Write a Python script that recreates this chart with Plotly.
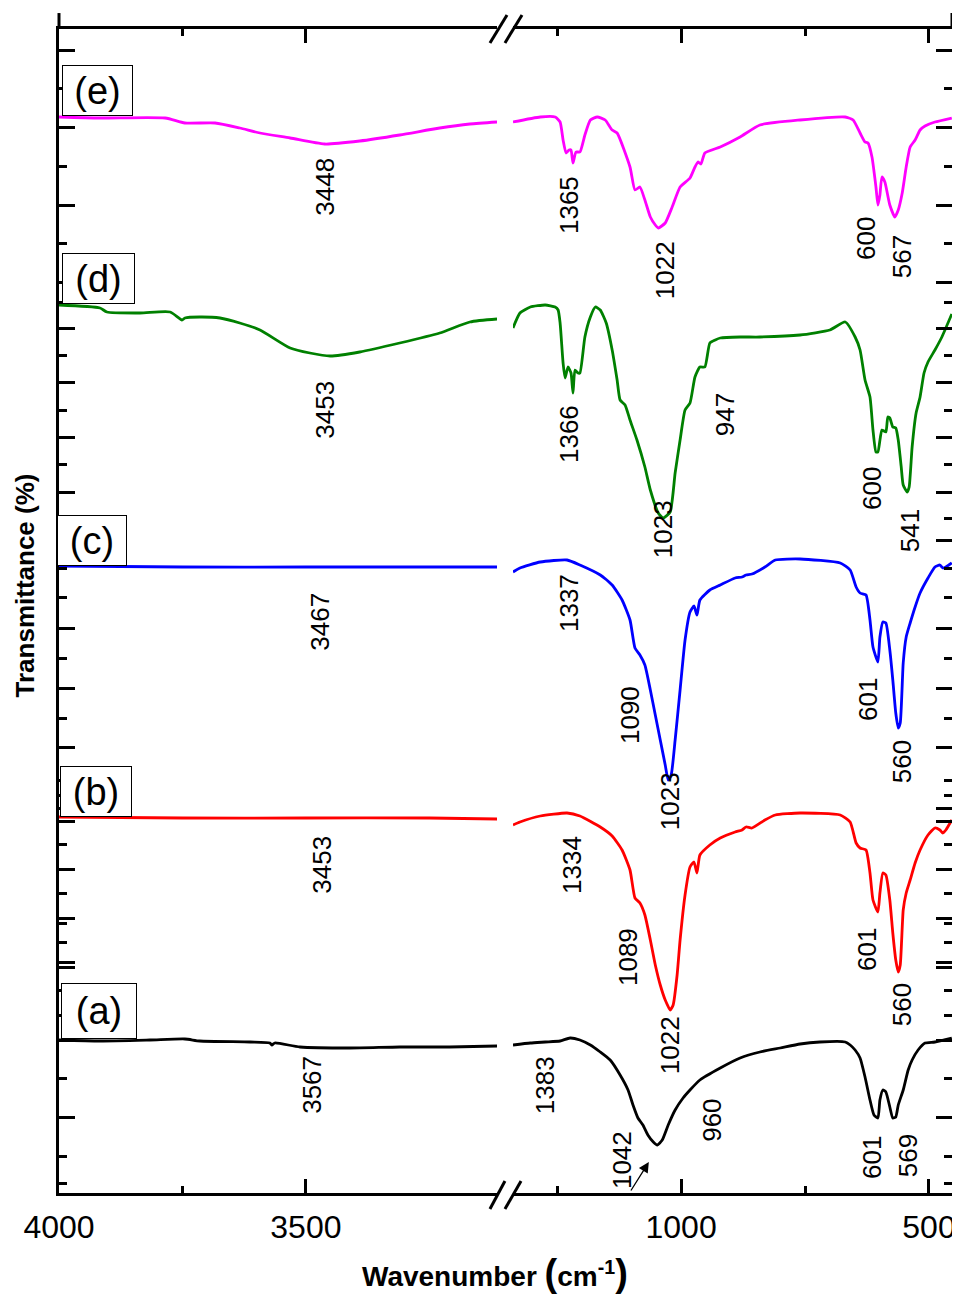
import plotly.graph_objects as go

# ---------------- data (wavenumber cm-1, transmittance a.u., stacked) ----------------
# (e)
e_hi_wn = [4000, 3917, 3785, 3745, 3684, 3634, 3593, 3532, 3462, 3391, 3310, 3229, 3168, 3113]
e_hi_t = [107.6, 107.5, 107.5, 107.0, 107.0, 106.5, 106.0, 105.5, 104.9, 105.2, 105.8, 106.5, 106.9, 107.1]
e_lo_wn = [1339, 1284, 1254, 1244, 1238, 1232, 1226, 1222, 1218, 1212, 1204, 1194, 1183, 1169, 1153, 1139, 1129,
           1103, 1093, 1083, 1073, 1062, 1052, 1046, 1032, 1018, 1002, 982, 972, 966, 960, 952, 921, 881, 841, 760,
           669, 653, 639, 629, 623, 615, 607, 603, 599, 595, 589, 579, 569, 562, 554, 546, 538, 528, 518, 508, 488, 454]
e_lo_t = [107.1, 107.6, 107.6, 107.1, 105.3, 104.0, 104.3, 104.3, 103.0, 104.1, 104.1, 105.8, 107.3, 107.6, 107.3,
          106.3, 106.0, 102.6, 100.3, 100.6, 99.3, 97.6, 96.8, 96.5, 97.0, 98.6, 100.6, 101.5, 102.6, 103.1, 102.9,
          104.0, 104.6, 105.6, 106.8, 107.3, 107.6, 107.3, 106.0, 105.1, 105.0, 103.6, 100.6, 98.8, 99.8, 101.6, 101.1,
          98.8, 97.6, 98.3, 100.0, 102.6, 104.6, 105.3, 106.3, 106.7, 107.1, 107.5]
# (d)
d_hi_wn = [4000, 3917, 3903, 3836, 3775, 3751, 3745, 3715, 3674, 3634, 3593, 3532, 3492, 3451, 3391, 3310, 3229, 3168, 3113]
d_hi_t = [88.8, 88.5, 88.1, 88.0, 88.1, 87.3, 87.5, 87.6, 87.5, 87.0, 86.3, 84.5, 84.0, 83.7, 84.1, 85.0, 86.0, 87.1, 87.4]
d_lo_wn = [1339, 1325, 1304, 1274, 1254, 1248, 1244, 1238, 1234, 1228, 1222, 1218, 1214, 1208, 1204, 1194, 1183, 1173,
           1163, 1151, 1139, 1129, 1123, 1113, 1103, 1089, 1073, 1062, 1046, 1036, 1022, 1012, 1002, 992, 982, 972,
           962, 952, 942, 931, 921, 881, 841, 760, 700, 669, 649, 639, 629, 619, 613, 607, 603, 595, 587, 583, 579,
           573, 567, 562, 556, 552, 544, 540, 534, 526, 518, 510, 502, 488, 474, 454]
d_lo_t = [86.5, 88.0, 88.6, 88.8, 88.6, 88.3, 87.0, 83.0, 81.5, 82.6, 82.0, 80.0, 82.3, 82.0, 82.0, 85.6, 87.6, 88.6,
          88.3, 87.0, 84.3, 81.3, 79.3, 78.8, 77.3, 75.3, 72.6, 70.3, 68.0, 67.5, 68.1, 72.0, 75.3, 78.3, 79.0, 81.6,
          82.6, 82.6, 85.0, 85.3, 85.5, 85.6, 85.6, 85.8, 86.3, 87.1, 85.6, 84.3, 81.3, 79.6, 76.3, 74.1, 74.1, 76.3,
          76.1, 77.6, 77.5, 76.6, 76.5, 75.3, 72.6, 70.8, 70.1, 70.6, 74.6, 78.0, 79.6, 82.0, 83.1, 84.3, 85.6, 87.9]
# (c)
c_hi_wn = [4000, 3750, 3500, 3250, 3113]
c_hi_t = [62.7, 62.6, 62.6, 62.6, 62.6]
c_lo_wn = [1339, 1325, 1284, 1230, 1204, 1163, 1139, 1119, 1103, 1093, 1083, 1073, 1062, 1052, 1042, 1032, 1026,
           1020, 1012, 1002, 992, 982, 974, 968, 962, 942, 921, 891, 877, 869, 857, 831, 810, 760, 679, 659, 647,
           639, 627, 619, 613, 603, 599, 593, 587, 579, 573, 567, 562, 558, 552, 546, 538, 528, 518, 502, 488, 478,
           472, 466, 454]
c_lo_t = [62.1, 62.5, 63.1, 63.3, 62.8, 61.8, 60.8, 59.3, 57.3, 54.5, 53.8, 52.8, 50.3, 47.8, 45.3, 42.8, 41.3,
          41.8, 45.3, 50.3, 55.3, 58.1, 58.7, 57.8, 59.3, 60.3, 60.8, 61.5, 61.6, 61.8, 61.9, 62.6, 63.3, 63.4, 63.0,
          62.3, 60.6, 60.0, 59.8, 57.3, 54.6, 53.1, 55.6, 57.1, 57.0, 54.3, 51.3, 48.0, 46.5, 47.0, 53.0, 55.6, 57.0,
          58.6, 60.0, 61.5, 62.6, 62.8, 62.5, 62.6, 63.0]
# (b)
b_hi_wn = [4000, 3750, 3500, 3250, 3113]
b_hi_t = [37.6, 37.5, 37.5, 37.5, 37.4]
b_lo_wn = [1339, 1325, 1284, 1230, 1204, 1163, 1139, 1119, 1103, 1093, 1083, 1073, 1062, 1052, 1042, 1032, 1022,
           1016, 1008, 1002, 992, 982, 974, 968, 962, 942, 921, 891, 877, 869, 857, 831, 810, 760, 679, 659, 647,
           639, 627, 619, 613, 603, 599, 593, 587, 579, 573, 567, 562, 558, 552, 546, 538, 528, 518, 502, 488, 478,
           472, 466, 454]
b_lo_t = [36.8, 37.1, 37.7, 38.0, 37.7, 36.6, 35.7, 34.3, 32.3, 29.5, 29.0, 27.8, 25.3, 22.8, 20.8, 19.3, 18.3,
          18.8, 21.8, 25.3, 29.8, 32.6, 33.1, 32.0, 33.8, 34.8, 35.5, 36.1, 36.3, 36.6, 36.5, 37.3, 37.8, 38.0, 37.8,
          37.1, 35.0, 34.5, 34.3, 32.0, 29.3, 28.1, 30.0, 32.0, 31.8, 29.3, 26.0, 23.3, 22.1, 22.8, 28.3, 30.0, 31.3,
          33.0, 34.3, 35.8, 36.5, 36.3, 36.0, 36.3, 37.3]
# (a)
a_hi_wn = [4000, 3917, 3816, 3745, 3715, 3613, 3573, 3569, 3563, 3512, 3411, 3310, 3209, 3113]
a_hi_t = [15.3, 15.2, 15.3, 15.4, 15.2, 15.1, 15.0, 14.8, 15.0, 14.6, 14.5, 14.6, 14.6, 14.7]
a_lo_wn = [1339, 1304, 1274, 1244, 1224, 1204, 1183, 1163, 1143, 1123, 1107, 1097, 1087, 1077, 1067, 1056, 1048,
           1038, 1026, 1012, 996, 982, 962, 921, 881, 841, 800, 760, 720, 669, 659, 649, 639, 629, 619, 611, 603,
           599, 593, 587, 579, 573, 567, 562, 552, 542, 534, 522, 508, 488, 454]
a_lo_t = [14.8, 15.0, 15.1, 15.2, 15.5, 15.3, 14.8, 14.1, 13.3, 11.8, 10.3, 8.8, 7.5, 6.8, 5.8, 5.1, 4.8, 5.3, 6.8,
          8.3, 9.5, 10.3, 11.3, 12.5, 13.5, 14.1, 14.5, 14.9, 15.1, 15.1, 14.8, 14.3, 13.5, 11.6, 9.3, 7.8, 7.5, 9.3,
          10.3, 10.1, 8.6, 7.5, 7.6, 8.8, 10.3, 12.3, 13.3, 14.3, 15.0, 15.1, 15.5]

series_names = ["(a)", "(b)", "(c)", "(d)", "(e)"]
series_colors = ["#000000", "#FF0000", "#0000FF", "#008000", "#FF00FF"]
hi_wn = [a_hi_wn, b_hi_wn, c_hi_wn, d_hi_wn, e_hi_wn]
hi_t = [a_hi_t, b_hi_t, c_hi_t, d_hi_t, e_hi_t]
lo_wn = [a_lo_wn, b_lo_wn, c_lo_wn, d_lo_wn, e_lo_wn]
lo_t = [a_lo_t, b_lo_t, c_lo_t, d_lo_t, e_lo_t]

# panel label positions (wavenumber on high-range axis, transmittance)
panel_wn = [3919, 3925, 3933, 3920, 3922]
panel_t = [18.25, 40.15, 65.25, 91.45, 110.25]
panel_w = [72, 68, 66, 69, 67]
panel_h = [52, 47, 47, 47, 47]

# peak labels: text, axis ('hi'/'lo'), wavenumber position, transmittance position
peak_text = ["3448", "1365", "1022", "600", "567",
             "3453", "1366", "947", "1023", "600", "541",
             "3467", "1337", "1090", "1023", "601", "560",
             "3453", "1334", "1089", "1022", "601", "560",
             "3567", "1383", "1042", "960", "601", "569"]
peak_axis = ["hi", "lo", "lo", "lo", "lo",
             "hi", "lo", "lo", "lo", "lo", "lo",
             "hi", "lo", "lo", "lo", "lo", "lo",
             "hi", "lo", "lo", "lo", "lo", "lo",
             "hi", "lo", "lo", "lo", "lo", "lo"]
peak_wn = [3462, 1226, 1032, 627, 554,
           3462, 1226, 911, 1036, 615, 538,
           3472, 1226, 1103, 1022, 623, 554,
           3468, 1220, 1107, 1022, 625, 554,
           3488, 1274, 1119, 938, 615, 542]
peak_t = [100.6, 98.8, 92.3, 95.4, 93.6,
          78.3, 75.9, 77.8, 66.4, 70.5, 66.2,
          57.1, 59.0, 47.8, 39.2, 49.3, 43.1,
          32.8, 32.8, 23.6, 14.8, 24.3, 18.8,
          10.8, 10.8, 3.3, 7.3, 3.6, 3.7]

# axis ticks
x_hi_major = [4000, 3500]
x_hi_minor = [3750]
x_lo_major = [1000, 500]
x_lo_minor = [1250, 750]
y_major = [114.3, 106.6, 98.8, 91.1, 86.5, 81.1, 75.6, 70.1, 65.3, 56.5, 50.5, 44.6, 38.5, 37.2, 32.4, 27.5,
           23.1, 22.6, 15.3, 7.6]
y_minor = [110.5, 102.7, 95.0, 89.1, 83.8, 78.3, 72.9, 67.5, 62.5, 59.6, 53.5, 47.5, 41.3, 39.8, 34.9, 30.0,
           27.0, 25.1, 20.3, 17.8, 11.5, 3.7, 1.0]

FONT = "Liberation Sans, Arial, sans-serif"

fig = go.Figure()
for i in range(5):
    fig.add_trace(go.Scatter(x=hi_wn[i], y=hi_t[i], xaxis="x", yaxis="y", mode="lines",
                             line=dict(color=series_colors[i], width=2.8, shape="spline", smoothing=0.6),
                             name=series_names[i], showlegend=False))
    fig.add_trace(go.Scatter(x=lo_wn[i], y=lo_t[i], xaxis="x2", yaxis="y2", mode="lines",
                             line=dict(color=series_colors[i], width=2.8, shape="spline", smoothing=0.5),
                             name=series_names[i], showlegend=False))

tickfont = dict(family=FONT, size=32, color="black")
xcommon = dict(showline=True, linecolor="black", linewidth=3, ticks="inside", tickcolor="black",
               tickwidth=2.5, ticklen=14, mirror="ticks", showgrid=False, zeroline=False,
               tickfont=tickfont, tickmode="array", automargin=False, ticklabelstandoff=4)
ycommon = dict(showline=True, linecolor="black", linewidth=3, ticks="inside", tickcolor="black",
               tickwidth=2.5, ticklen=16, showgrid=False, zeroline=False, showticklabels=False,
               tickmode="array", tickvals=y_major, range=[0, 116.4], automargin=False,
               minor=dict(tickmode="array", tickvals=y_minor, ticks="inside", ticklen=8,
                          tickwidth=2.5, tickcolor="black", showgrid=False))

# the page body adds an 8 px margin, so the figure is 8 px smaller than the window
fig.update_layout(
    width=952, height=1290,
    margin=dict(l=51, r=8, t=21, b=105, autoexpand=False),
    paper_bgcolor="white", plot_bgcolor="white",
    xaxis=dict(domain=[0, 0.4905], range=[4000, 3113], tickvals=x_hi_major,
               ticktext=[str(v) for v in x_hi_major], anchor="y",
               minor=dict(tickmode="array", tickvals=x_hi_minor, ticks="inside", ticklen=7,
                          tickwidth=2.5, tickcolor="black", showgrid=False),
               **xcommon),
    xaxis2=dict(domain=[0.5084, 1], range=[1339, 453.6], tickvals=x_lo_major,
                ticktext=[str(v) for v in x_lo_major], anchor="y2",
                minor=dict(tickmode="array", tickvals=x_lo_minor, ticks="inside", ticklen=7,
                           tickwidth=2.5, tickcolor="black", showgrid=False),
                **xcommon),
    yaxis=dict(domain=[0, 1], anchor="x", side="left", **ycommon),
    yaxis2=dict(domain=[0, 1], anchor="x2", side="right", overlaying="y", **ycommon),
)

annotations = []
for i in range(5):
    annotations.append(dict(x=panel_wn[i], y=panel_t[i], xref="x", yref="y", text=series_names[i],
                            showarrow=False, font=dict(family=FONT, size=38, color="black"),
                            bordercolor="black", borderwidth=1, borderpad=1, bgcolor="white",
                            width=panel_w[i], height=panel_h[i], xanchor="center", yanchor="middle"))
for txt, ax_, wn, t in zip(peak_text, peak_axis, peak_wn, peak_t):
    annotations.append(dict(x=wn, y=t, xref="x" if ax_ == "hi" else "x2", yref="y", text=txt,
                            textangle=-90, showarrow=False,
                            font=dict(family=FONT, size=26, color="black"),
                            xanchor="center", yanchor="middle"))
# arrow pointing to 1042 band of (a)
annotations.append(dict(x=1065, y=3.1, xref="x2", yref="y", ax=1103, ay=0.1, axref="x2", ayref="y",
                        text="", showarrow=True, arrowhead=2, arrowsize=1.6, arrowwidth=1.3,
                        arrowcolor="black"))
# axis titles
annotations.append(dict(x=0.488, y=-0.0687, xref="paper", yref="paper",
                        text="<b>Wavenumber <span style='font-size:38px'>(</span>cm<sup>-1</sup>"
                             "<span style='font-size:38px'>)</span></b>",
                        showarrow=False, font=dict(family=FONT, size=28, color="black"),
                        xanchor="center", yanchor="middle"))
annotations.append(dict(x=-0.038, y=0.522, xref="paper", yref="paper",
                        text="<b>Transmittance (%)</b>", textangle=-90,
                        showarrow=False, font=dict(family=FONT, size=26, color="black"),
                        xanchor="center", yanchor="middle"))
fig.update_layout(annotations=annotations)

# axis-break marks and y-axis line extensions above the top frame
shapes = []
for x0, x1 in [(0.4826, 0.4994), (0.4994, 0.5174)]:
    shapes.append(dict(type="line", xref="paper", yref="paper", x0=x0, x1=x1, y0=-0.0137, y1=0.0103,
                       line=dict(color="black", width=3)))
for x0, x1 in [(0.4826, 0.5017), (0.4994, 0.5185)]:
    shapes.append(dict(type="line", xref="paper", yref="paper", x0=x0, x1=x1, y0=0.988, y1=1.012,
                       line=dict(color="black", width=3)))
for xp in [0, 1]:
    shapes.append(dict(type="line", xref="paper", yref="paper", x0=xp, x1=xp, y0=1, y1=1.0137,
                       line=dict(color="black", width=3)))
fig.update_layout(shapes=shapes)

fig.write_html("out.html")
